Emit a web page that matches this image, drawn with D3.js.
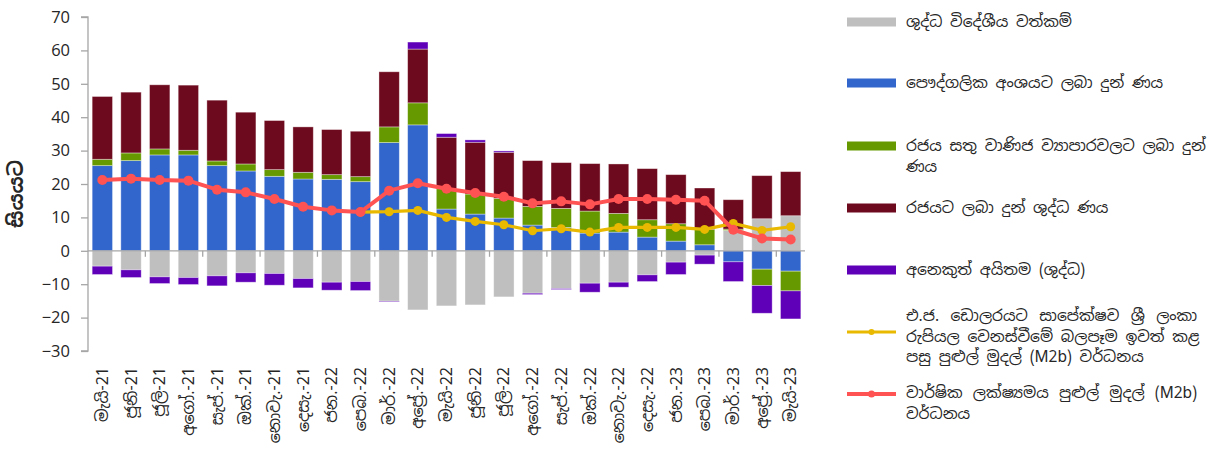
<!DOCTYPE html>
<html>
<head>
<meta charset="utf-8">
<script src="https://cdn.jsdelivr.net/npm/d3@7"></script>
<style>
  html, body { margin: 0; padding: 0; background: #fff; }
  svg { display: block; }
  text { font-family: "Noto Sans Sinhala", "Iskoola Pota", "Noto Sans", "Open Sans", sans-serif; fill: #262626; }
</style>
</head>
<body>
<svg id="chart" width="1210" height="454"></svg>
<script>
// Months (Sinhala abbreviations)
const months = ["මැයි-21","ජූනි-21","ජූලි-21","අගෝ.-21","සැප්.-21","ඔක්.-21","නොවැ.-21","දෙසැ.-21",
  "ජන.-22","පෙබ.-22","මාර්.-22","අප්‍රේ.-22","මැයි-22","ජූනි-22","ජූලි-22","අගෝ.-22","සැප්.-22","ඔක්.-22",
  "නොවැ.-22","දෙසැ.-22","ජන.-23","පෙබ.-23","මාර්.-23","අප්‍රේ.-23","මැයි-23"];

// Contributions to broad money growth (percentage points)
const netForeignAssets = [-4.6,-5.7,-7.8,-8.0,-7.5,-6.6,-6.8,-8.3,-9.4,-9.2,-15.1,-17.7,-16.5,-16.2,-13.8,-12.7,-11.3,-9.7,-9.4,-7.2,-3.4,-1.3,6.1,9.6,10.5];
const privateCredit    = [25.5,27.0,28.7,28.7,25.5,23.9,22.3,21.5,21.4,20.7,32.4,37.7,12.5,11.0,9.8,7.7,7.0,5.3,5.6,4.1,2.9,1.8,-3.3,-5.5,-6.1];
const soeCredit        = [1.9,2.3,1.8,1.4,1.4,2.1,2.0,2.0,1.4,1.5,4.7,6.6,6.1,6.0,5.9,5.6,5.7,6.6,5.6,5.2,5.2,4.6,0.4,-4.9,-5.9];
const govCredit        = [18.8,18.2,19.2,19.5,18.2,15.5,14.7,13.6,13.5,13.6,16.5,16.1,15.4,15.5,13.8,13.7,13.7,14.2,14.8,15.3,14.7,12.4,8.8,12.9,13.2];
const otherItems       = [-2.5,-2.3,-2.0,-2.1,-3.0,-2.8,-3.5,-2.8,-2.4,-2.7,-0.2,2.1,1.1,0.7,0.4,-0.4,-0.3,-2.7,-1.5,-2.0,-3.7,-2.7,-5.9,-8.3,-8.4];

// Year-on-year M2b growth, and growth excluding the exchange rate effect
const m2bGrowth    = [21.2,21.6,21.2,21.0,18.3,17.5,15.5,13.2,12.1,11.6,18.0,20.2,18.6,17.3,16.2,14.2,14.8,13.9,15.5,15.5,15.3,15.0,6.3,3.7,3.4];
const m2bAdjGrowth = [null,null,null,null,null,null,null,null,null,11.6,11.7,12.1,10.0,8.8,7.8,6.0,6.6,5.6,7.0,7.0,7.0,6.4,8.2,6.1,7.2];

const yTicks = [-30,-20,-10,0,10,20,30,40,50,60,70];

const barKeys = ["nfa","private","soe","gov","other"];
const barColors = { nfa: "#bfbfbf", private: "#3366cc", soe: "#669900", gov: "#6e0a1e", other: "#5f00b8" };
const barNames = {
  nfa: ["ශුද්ධ විදේශීය වත්කම්"],
  private: ["පෞද්ගලික අංශයට ලබා දුන් ණය"],
  soe: ["රජය සතු වාණිජ ව්‍යාපාරවලට ලබා දුන්", "ණය"],
  gov: ["රජයට ලබා දුන් ශුද්ධ ණය"],
  other: ["අනෙකුත් අයිතම (ශුද්ධ)"]
};
const adjName = ["එ.ජ. ඩොලරයට සාපේක්ෂව ශ්‍රී ලංකා", "රුපියල වෙනස්වීමේ බලපෑම ඉවත් කළ", "පසු පුළුල් මුදල් (M2b) වර්ධනය"];
const m2bName = ["වාර්ෂික ලක්ෂ්‍යමය පුළුල් මුදල් (M2b)", "වර්ධනය"];
const yTitle = "සියයට";
const lineColors = { adj: "#e8b900", m2b: "#ff5252" };

const rows = months.map((m, i) => ({
  month: m,
  nfa: netForeignAssets[i], private: privateCredit[i], soe: soeCredit[i],
  gov: govCredit[i], other: otherItems[i]
}));

const svg = d3.select("#chart");

const x = d3.scaleBand().domain(months).range([88, 805]).paddingInner(0.29).paddingOuter(0.145);
const y = d3.scaleLinear().domain([-30, 70]).range([351, 17]);

// Stacked bars, positives above and negatives below zero
const series = d3.stack().keys(barKeys).offset(d3.stackOffsetDiverging)(rows);

svg.append("g").selectAll("g").data(series).join("g")
  .attr("fill", d => barColors[d.key])
  .selectAll("rect").data(d => d).join("rect")
  .attr("x", d => x(d.data.month))
  .attr("width", x.bandwidth())
  .attr("y", d => y(Math.max(d[0], d[1])))
  .attr("height", d => Math.abs(y(d[0]) - y(d[1])))
  .attr("stroke", "#ffffff").attr("stroke-opacity", 0.45).attr("stroke-width", 0.8);

// Y axis
const yAxis = svg.append("g").attr("transform", "translate(88,0)")
  .call(d3.axisLeft(y).tickValues(yTicks).tickSize(7).tickPadding(11).tickFormat(d3.format("d")));
yAxis.select(".domain").attr("stroke", "#a6a6a6").attr("stroke-width", 1.3)
  .attr("d", `M-7,${y(-30)}H0V${y(70)}H-7`);
yAxis.selectAll(".tick line").attr("stroke", "#a6a6a6").attr("stroke-width", 1.3);
yAxis.selectAll(".tick text").style("font-size", "16.5px").style("font-family", "'Open Sans', 'Noto Sans', sans-serif").attr("fill", "#262626");

// Zero line with tick marks every second category boundary
const zero = svg.append("g");
zero.append("line").attr("x1", 88).attr("x2", 805).attr("y1", y(0)).attr("y2", y(0))
  .attr("stroke", "#a6a6a6").attr("stroke-width", 1.3);
const boundaries = d3.range(2, months.length + 1, 2).map(k => 88 + x.step() * k);
zero.selectAll("line.tk").data(boundaries).join("line").attr("class", "tk")
  .attr("x1", d => d).attr("x2", d => d).attr("y1", y(0)).attr("y2", y(0) + 6)
  .attr("stroke", "#a6a6a6").attr("stroke-width", 1.3);

// Month labels, rotated
svg.append("g").selectAll("text").data(months).join("text")
  .attr("transform", d => `translate(${x(d) + x.bandwidth() / 2},367) rotate(-90)`)
  .attr("text-anchor", "end").attr("dy", "0.35em")
  .style("font-size", "16px")
  .text(d => d);

// Y axis title
svg.append("text")
  .attr("transform", `translate(16,194) rotate(-90)`)
  .attr("text-anchor", "middle").attr("dy", "0.35em")
  .style("font-size", "20px").style("font-weight", "bold")
  .text(yTitle);

// Lines
function drawLine(values, color, width, r) {
  const pts = values.map((v, i) => ({ m: months[i], v })).filter(p => p.v !== null);
  const line = d3.line().x(p => x(p.m) + x.bandwidth() / 2).y(p => y(p.v));
  const g = svg.append("g");
  g.append("path").datum(pts).attr("d", line).attr("fill", "none")
    .attr("stroke", color).attr("stroke-width", width).attr("stroke-linejoin", "round");
  g.selectAll("circle").data(pts).join("circle")
    .attr("cx", p => x(p.m) + x.bandwidth() / 2).attr("cy", p => y(p.v)).attr("r", r)
    .attr("fill", color);
}
drawLine(m2bAdjGrowth, lineColors.adj, 3.2, 4.5);
drawLine(m2bGrowth, lineColors.m2b, 4, 5);

// Legend
const legend = svg.append("g");
const lx0 = 847, lx1 = 896, tx = 906, textRight = 1197, lineH = 20.5;

function legendText(lines, yFirst, justify) {
  lines.forEach((t, i) => {
    const el = legend.append("text").attr("x", tx).attr("y", yFirst + i * lineH)
      .attr("dy", "0.35em").style("font-size", "15.5px").text(t);
    if (justify && i < lines.length - 1) {
      const w = el.node().getComputedTextLength();
      const gaps = t.split(" ").length - 1;
      if (gaps > 0 && w < textRight - tx) el.style("word-spacing", ((textRight - tx - w) / gaps) + "px");
    }
  });
}

const barLegendY = { nfa: 22, private: 83, soe: 146, gov: 208, other: 270 };
barKeys.forEach(k => {
  legend.append("rect").attr("x", lx0).attr("y", barLegendY[k] - 4.5).attr("width", lx1 - lx0).attr("height", 9)
    .attr("fill", barColors[k]);
  legendText(barNames[k], barLegendY[k], true);
});

function lineSwatch(cy, color, width, r) {
  legend.append("line").attr("x1", lx0).attr("x2", lx1).attr("y1", cy).attr("y2", cy)
    .attr("stroke", color).attr("stroke-width", width);
  legend.append("circle").attr("cx", (lx0 + lx1) / 2).attr("cy", cy).attr("r", r).attr("fill", color);
}
lineSwatch(332, lineColors.adj, 3.2, 3);
legendText(adjName, 316, true);
lineSwatch(394, lineColors.m2b, 4, 3.5);
legendText(m2bName, 393, true);
</script>
</body>
</html>
